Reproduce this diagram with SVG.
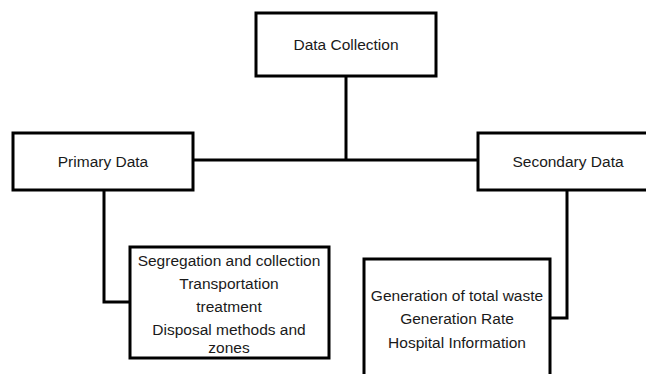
<svg xmlns="http://www.w3.org/2000/svg" width="646" height="374" viewBox="0 0 646 374">
<style>
.box{fill:#fff;stroke:#000;stroke-width:3}
.ln{fill:none;stroke:#000;stroke-width:3}
text{font-family:"Liberation Sans",Arial,sans-serif;font-size:15.5px;fill:#1a1a1a;text-anchor:middle;dominant-baseline:central}
</style>
<rect width="646" height="374" fill="#fff"/>
<g id="connectors">
<path class="ln" d="M346 76V160"/>
<path class="ln" d="M193 160H478"/>
<path class="ln" d="M104 190V302H130"/>
<path class="ln" d="M567 190V318H550"/>
</g>
<g id="data-collection">
<rect class="box" x="256" y="13" width="180" height="63"/>
<text x="346" y="44">Data Collection</text>
</g>
<g id="primary-data">
<rect class="box" x="13" y="133" width="180" height="57"/>
<text x="103" y="161">Primary Data</text>
</g>
<g id="secondary-data">
<rect class="box" x="478" y="133" width="180" height="57"/>
<text x="568" y="161">Secondary Data</text>
</g>
<g id="primary-items">
<rect class="box" x="130" y="247" width="199" height="111"/>
<text x="229" y="260">Segregation and collection</text>
<text x="229" y="283">Transportation</text>
<text x="229" y="306">treatment</text>
<text x="229" y="329">Disposal methods and</text>
<text x="229" y="347">zones</text>
</g>
<g id="secondary-items">
<rect class="box" x="364" y="259" width="186" height="130"/>
<text x="457" y="295">Generation of total waste</text>
<text x="457" y="318">Generation Rate</text>
<text x="457" y="342">Hospital Information</text>
</g>
</svg>
